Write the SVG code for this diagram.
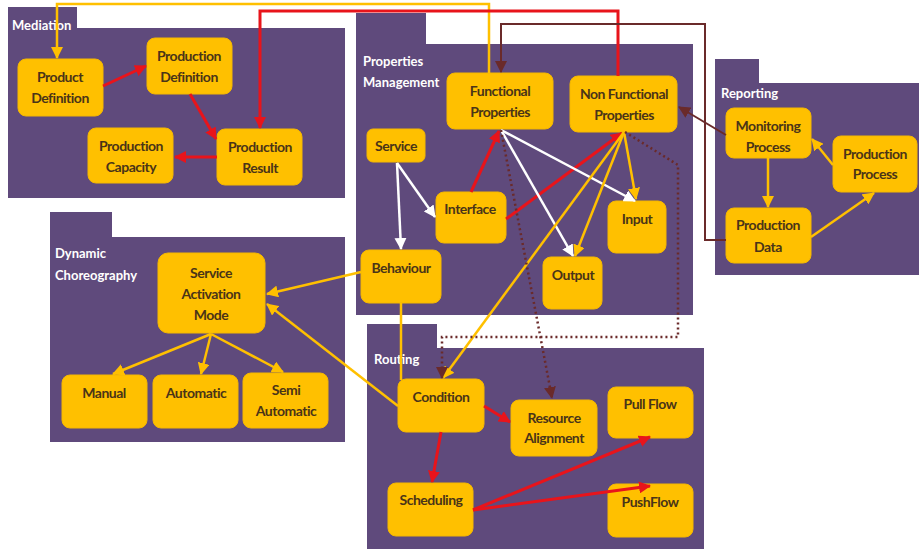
<svg xmlns="http://www.w3.org/2000/svg" width="919" height="549" viewBox="0 0 919 549">
<defs>
<style>
.pkg{fill:#5F4A7C}
.nd{fill:#FFC000;stroke:#F5B800;stroke-width:1}
.t{font-family:Lato,"Liberation Sans",sans-serif;font-weight:bold;font-size:14px;letter-spacing:-0.5px;fill:#4A3418;text-anchor:middle}
.pl{font-family:Lato,"Liberation Sans",sans-serif;font-weight:bold;font-size:13px;fill:#FFFFFF}
.y{stroke:#FFC000;stroke-width:2.5;fill:none}
.r{stroke:#E8141B;stroke-width:3;fill:none}
.w{stroke:#FFFFFF;stroke-width:2.5;fill:none}
.b{stroke:#6A2A2A;stroke-width:2;fill:none}
.bd{stroke:#6A2A2A;stroke-width:2.5;fill:none;stroke-dasharray:2 3}
</style>
<marker id="ay" markerWidth="12" markerHeight="12" refX="11" refY="6" orient="auto" markerUnits="userSpaceOnUse"><path d="M0,0 L12,6 L0,12 Z" fill="#FFC000"/></marker>
<marker id="ar" markerWidth="12" markerHeight="12" refX="11" refY="6" orient="auto" markerUnits="userSpaceOnUse"><path d="M0,0 L12,6 L0,12 Z" fill="#E8141B"/></marker>
<marker id="aw" markerWidth="12" markerHeight="12" refX="11" refY="6" orient="auto" markerUnits="userSpaceOnUse"><path d="M0,0 L12,6 L0,12 Z" fill="#FFFFFF"/></marker>
<marker id="ab" markerWidth="12" markerHeight="12" refX="11" refY="6" orient="auto" markerUnits="userSpaceOnUse"><path d="M0,0 L12,6 L0,12 Z" fill="#6A2A2A"/></marker>
</defs>
<rect width="919" height="549" fill="#FFFFFF"/>

<g id="pkg-mediation">
<path class="pkg" d="M8,7 H77 V28 H345 V198 H8 Z"/>
<text class="pl" x="12" y="30">Mediation</text>
</g>
<g id="pkg-properties">
<path class="pkg" d="M356,13 H426 V44 H693 V315 H356 Z"/>
<text class="pl" x="363" y="66">Properties</text>
<text class="pl" x="363" y="87">Management</text>
</g>
<g id="pkg-reporting">
<path class="pkg" d="M715,59 H759 V83 H919 V275 H715 Z"/>
<text class="pl" x="721" y="98">Reporting</text>
</g>
<g id="pkg-dynamic">
<path class="pkg" d="M50,212 H112 V237 H345 V442 H50 Z"/>
<text class="pl" x="55" y="258">Dynamic</text>
<text class="pl" x="55" y="280">Choreography</text>
</g>
<g id="pkg-routing">
<path class="pkg" d="M367,324 H437 V348 H704 V549 H367 Z"/>
<text class="pl" x="374" y="364">Routing</text>
</g>

<g id="n-product-definition"><rect class="nd" x="18" y="59" width="85" height="57" rx="8"/><text class="t" x="60" y="82">Product</text><text class="t" x="60" y="103">Definition</text></g>
<g id="n-production-definition"><rect class="nd" x="147" y="38" width="85" height="56" rx="8"/><text class="t" x="189" y="61">Production</text><text class="t" x="189" y="82">Definition</text></g>
<g id="n-production-capacity"><rect class="nd" x="88" y="128" width="85" height="55" rx="8"/><text class="t" x="131" y="151">Production</text><text class="t" x="131" y="172">Capacity</text></g>
<g id="n-production-result"><rect class="nd" x="217" y="129" width="85" height="56" rx="8"/><text class="t" x="260" y="152">Production</text><text class="t" x="260" y="173">Result</text></g>

<g id="n-functional-properties"><rect class="nd" x="447" y="73" width="106" height="56" rx="8"/><text class="t" x="500" y="96">Functional</text><text class="t" x="500" y="117">Properties</text></g>
<g id="n-non-functional-properties"><rect class="nd" x="570" y="76" width="107" height="56" rx="8"/><text class="t" x="624" y="99">Non Functional</text><text class="t" x="624" y="120">Properties</text></g>
<g id="n-service"><rect class="nd" x="367" y="129" width="58" height="33" rx="6"/><text class="t" x="396" y="151">Service</text></g>
<g id="n-interface"><rect class="nd" x="436" y="192" width="70" height="51" rx="8"/><text class="t" x="470" y="214">Interface</text></g>
<g id="n-input"><rect class="nd" x="608" y="201" width="58" height="52" rx="8"/><text class="t" x="637" y="224">Input</text></g>
<g id="n-output"><rect class="nd" x="543" y="257" width="59" height="52" rx="8"/><text class="t" x="573" y="280">Output</text></g>
<g id="n-behaviour"><rect class="nd" x="361" y="250" width="80" height="53" rx="8"/><text class="t" x="401" y="273">Behaviour</text></g>

<g id="n-monitoring-process"><rect class="nd" x="726" y="108" width="85" height="50" rx="8"/><text class="t" x="768" y="131">Monitoring</text><text class="t" x="768" y="152">Process</text></g>
<g id="n-production-process"><rect class="nd" x="833" y="136" width="84" height="56" rx="8"/><text class="t" x="875" y="159">Production</text><text class="t" x="875" y="179">Process</text></g>
<g id="n-production-data"><rect class="nd" x="726" y="208" width="85" height="55" rx="8"/><text class="t" x="768" y="230">Production</text><text class="t" x="768" y="252">Data</text></g>

<g id="n-service-activation-mode"><rect class="nd" x="158" y="253" width="107" height="80" rx="10"/><text class="t" x="211" y="278">Service</text><text class="t" x="211" y="299">Activation</text><text class="t" x="211" y="320">Mode</text></g>
<g id="n-manual"><rect class="nd" x="62" y="375" width="85" height="53" rx="8"/><text class="t" x="104" y="398">Manual</text></g>
<g id="n-automatic"><rect class="nd" x="153" y="375" width="85" height="53" rx="8"/><text class="t" x="196" y="398">Automatic</text></g>
<g id="n-semi-automatic"><rect class="nd" x="243" y="373" width="85" height="55" rx="8"/><text class="t" x="286" y="395">Semi</text><text class="t" x="286" y="416">Automatic</text></g>

<g id="n-condition"><rect class="nd" x="398" y="379" width="86" height="53" rx="8"/><text class="t" x="441" y="402">Condition</text></g>
<g id="n-resource-alignment"><rect class="nd" x="511" y="400" width="86" height="56" rx="8"/><text class="t" x="554" y="423">Resource</text><text class="t" x="554" y="443">Alignment</text></g>
<g id="n-pull-flow"><rect class="nd" x="608" y="387" width="85" height="51" rx="8"/><text class="t" x="650" y="409">Pull Flow</text></g>
<g id="n-scheduling"><rect class="nd" x="388" y="483" width="85" height="53" rx="8"/><text class="t" x="431" y="505">Scheduling</text></g>
<g id="n-pushflow"><rect class="nd" x="608" y="484" width="85" height="53" rx="8"/><text class="t" x="650" y="507">PushFlow</text></g>

<g id="connectors">
<path class="y" d="M489,73 V4 H57 V58" marker-end="url(#ay)"/>
<path class="r" d="M618,76 V11 H260 V128" marker-end="url(#ar)"/>
<path class="b" d="M726,240 H705 V24 H501 V72" marker-end="url(#ab)"/>
<path class="b" d="M726,135 L679,107" marker-end="url(#ab)"/>
<path class="r" d="M103,86 L146,66" marker-end="url(#ar)"/>
<path class="r" d="M190,94 L216,139" marker-end="url(#ar)"/>
<path class="r" d="M217,157 L175,157" marker-end="url(#ar)"/>
<path class="w" d="M397,163 L435,217" marker-end="url(#aw)"/>
<path class="w" d="M397,163 L401,249" marker-end="url(#aw)"/>
<path class="r" d="M471,192 L499,131" marker-end="url(#ar)"/>
<path class="r" d="M506,219 L622,133" marker-end="url(#ar)"/>
<path class="w" d="M501,130 L635,201" marker-end="url(#aw)"/>
<path class="w" d="M501,130 L573,256" marker-end="url(#aw)"/>
<path class="y" d="M624,132 L636,199" marker-end="url(#ay)"/>
<path class="y" d="M624,132 L575,256" marker-end="url(#ay)"/>
<path class="y" d="M624,132 L443,378" marker-end="url(#ay)"/>
<path class="bd" d="M501,130 L552,398" marker-end="url(#ab)"/>
<path class="bd" d="M625,132 L678,165 V337 H442 V378" marker-end="url(#ab)"/>
<path class="y" d="M768,158 V207" marker-end="url(#ay)"/>
<path class="y" d="M811,237 L874,193" marker-end="url(#ay)"/>
<path class="y" d="M833,165 L812,139" marker-end="url(#ay)"/>
<path class="y" d="M361,272 L267,294" marker-end="url(#ay)"/>
<path class="y" d="M398,406 L267,304" marker-end="url(#ay)"/>
<path class="y" d="M211,334 L113,374" marker-end="url(#ay)"/>
<path class="y" d="M211,334 L201,374" marker-end="url(#ay)"/>
<path class="y" d="M211,334 L283,372" marker-end="url(#ay)"/>
<path class="y" d="M401,303 V380"/>
<path class="r" d="M484,406 L510,422" marker-end="url(#ar)"/>
<path class="r" d="M441,432 L432,482" marker-end="url(#ar)"/>
<path class="r" d="M473,510 L650,437" marker-end="url(#ar)"/>
<path class="r" d="M473,510 L650,486" marker-end="url(#ar)"/>
</g>
</svg>
